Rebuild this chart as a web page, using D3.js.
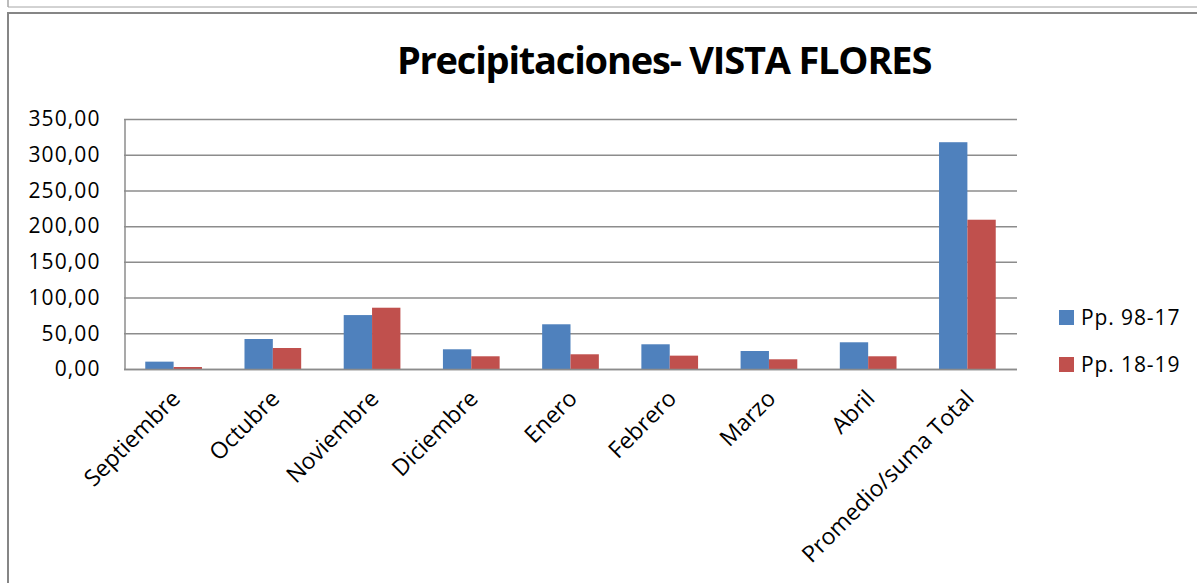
<!DOCTYPE html>
<html>
<head>
<meta charset="utf-8">
<script src="https://cdn.jsdelivr.net/npm/d3@7"></script>
<style>
  body { margin: 0; background: #fff; }
  svg { display: block; font-family: "Open Sans", "Noto Sans", sans-serif; }
</style>
</head>
<body>
<svg width="1197" height="583"></svg>
<script>
// Data
var categories = ["Septiembre", "Octubre", "Noviembre", "Diciembre", "Enero",
                  "Febrero", "Marzo", "Abril", "Promedio/suma Total"];
var series = ["Pp. 98-17", "Pp. 18-19"];
var pp9817 = [10.3, 42.0, 75.5, 27.6, 62.6, 34.6, 25.2, 37.4, 317.5];
var pp1819 = [2.8, 29.4, 85.8, 17.8, 20.6, 18.7, 13.6, 17.8, 209.0];
var yTicks = [0, 50, 100, 150, 200, 250, 300, 350];
var colors = ["#4F81BD", "#C0504D"];

var svg = d3.select("svg");

// plot area
var plotLeft = 124, plotRight = 1017, plotTop = 119, plotBottom = 369;

var x0 = d3.scaleBand()
    .domain(categories)
    .range([plotLeft, plotRight])
    .padding(0);

// Excel style: gap width 150%
var x1 = d3.scaleBand()
    .domain(series)
    .range([0, x0.bandwidth()])
    .paddingInner(0)
    .paddingOuter(0.75);

var y = d3.scaleLinear()
    .domain([0, 350])
    .range([plotBottom, plotTop]);

var esFormat = d3.formatLocale({decimal: ",", thousands: ".", grouping: [3], currency: ["", ""]})
    .format(".2f");

var color = d3.scaleOrdinal().domain(series).range(colors);

// chart frames (previous chart edge + this chart border)
svg.append("line")
    .attr("x1", 8).attr("x2", 1197).attr("y1", 7).attr("y2", 7)
    .attr("stroke", "#a6a6a6").attr("stroke-width", 1);
svg.append("line")
    .attr("x1", 8).attr("x2", 8).attr("y1", 0).attr("y2", 7)
    .attr("stroke", "#a6a6a6").attr("stroke-width", 1.5);
svg.append("path")
    .attr("d", "M8,583V13H1197")
    .attr("fill", "none")
    .attr("stroke", "#868686").attr("stroke-width", 2);

// title
svg.append("text")
    .attr("x", 664)
    .attr("y", 74)
    .attr("text-anchor", "middle")
    .style("font-size", "38px")
    .style("font-weight", "bold")
    .style("letter-spacing", "-1.2px")
    .attr("fill", "#000")
    .text("Precipitaciones- VISTA FLORES");

// gridlines
svg.append("g")
    .attr("class", "grid")
  .selectAll("line")
  .data(yTicks)
  .enter().append("line")
    .attr("x1", plotLeft)
    .attr("x2", plotRight)
    .attr("y1", function(d) { return y(d) + 0.5; })
    .attr("y2", function(d) { return y(d) + 0.5; })
    .attr("stroke", "#8c8c8c")
    .attr("stroke-width", 1.5);

// y axis
var yAxis = svg.append("g")
    .attr("transform", "translate(" + (plotLeft + 0.5) + ",0)")
    .call(d3.axisLeft(y).tickValues(yTicks).tickFormat(esFormat).tickSize(0).tickPadding(24));
yAxis.select(".domain").attr("stroke", "#8c8c8c").attr("stroke-width", 1.5);
yAxis.selectAll("text")
    .style("font-size", "21px")
    .style("letter-spacing", "1.1px")
    .attr("fill", "#000");
yAxis.attr("font-family", null).attr("font-size", null);

// bars
var groups = svg.append("g")
  .selectAll("g")
  .data(categories)
  .enter().append("g")
    .attr("transform", function(d) { return "translate(" + x0(d) + ",0)"; });

groups.selectAll("rect")
  .data(function(d, i) {
      return [{key: series[0], value: pp9817[i]}, {key: series[1], value: pp1819[i]}];
  })
  .enter().append("rect")
    .attr("x", function(d) { return x1(d.key); })
    .attr("y", function(d) { return y(d.value); })
    .attr("width", x1.bandwidth())
    .attr("height", function(d) { return y(0) - y(d.value); })
    .attr("fill", function(d) { return color(d.key); });

// x axis line
svg.append("line")
    .attr("x1", plotLeft).attr("x2", plotRight)
    .attr("y1", plotBottom + 0.5).attr("y2", plotBottom + 0.5)
    .attr("stroke", "#8c8c8c").attr("stroke-width", 1.5);

// x labels, rotated
svg.append("g")
  .selectAll("text")
  .data(categories)
  .enter().append("text")
    .attr("transform", function(d) {
        return "translate(" + (x0(d) + x0.bandwidth() / 2 + 8) + "," + (plotBottom + 31) + ") rotate(-45)";
    })
    .attr("text-anchor", "end")
    .style("font-size", "23px")
    .attr("fill", "#000")
    .text(function(d) { return d; });

// legend
var legend = svg.append("g")
  .selectAll("g")
  .data(series)
  .enter().append("g")
    .attr("transform", function(d, i) { return "translate(1059," + (310 + i * 47) + ")"; });

legend.append("rect")
    .attr("width", 15)
    .attr("height", 15)
    .attr("fill", function(d) { return color(d); });

legend.append("text")
    .attr("x", 22)
    .attr("y", 15)
    .style("font-size", "21px")
    .style("letter-spacing", "0.9px")
    .attr("fill", "#000")
    .text(function(d) { return d; });
</script>
</body>
</html>
